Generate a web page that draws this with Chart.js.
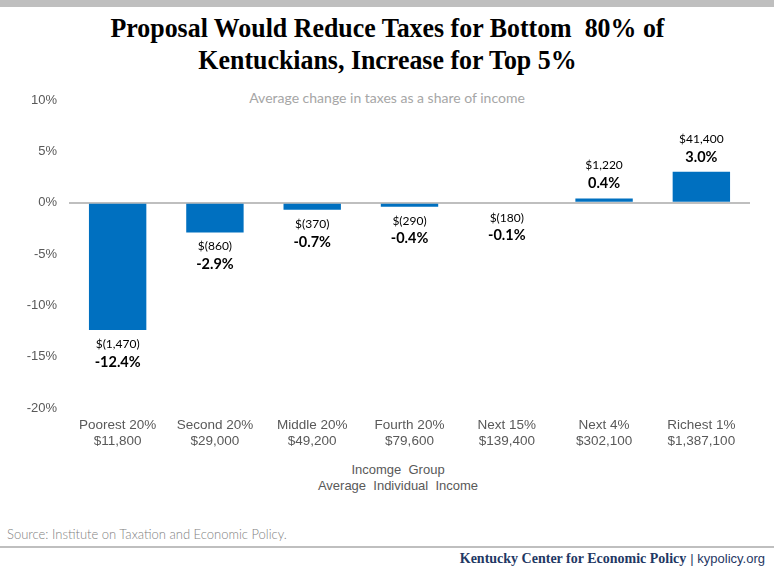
<!DOCTYPE html>
<html><head><meta charset="utf-8">
<script src="https://cdn.jsdelivr.net/npm/chart.js@4"></script>
<style>
html,body{margin:0;padding:0;background:#fff;}
#wrap{position:relative;width:774px;height:588px;overflow:hidden;background:#fff;}
#topbar{position:absolute;left:0;top:0;width:774px;height:7px;background:#bfbfbf;}
.title{position:absolute;left:0;width:774px;text-align:center;font-family:"Liberation Serif",serif;font-weight:bold;font-size:28px;line-height:32px;color:#000;white-space:nowrap;}
.title span{display:inline-block;transform:scaleX(0.925);}
#sub{position:absolute;left:187px;width:400px;top:89px;text-align:center;font-family:Lato,sans-serif;font-weight:400;font-size:14px;color:#a6a6a6;}
#xtitle{position:absolute;left:248px;width:300px;top:462px;text-align:center;font-family:"Liberation Sans",sans-serif;font-size:13px;line-height:16px;color:#595959;}
#source{position:absolute;left:7px;top:526px;font-family:Lato,sans-serif;font-weight:300;font-size:13px;color:#7f7f7f;}
#rule{position:absolute;left:0;top:546px;width:774px;height:2px;background:#bfbfbf;}
#foot{position:absolute;right:9px;top:549px;color:#1f3864;white-space:nowrap;}
#foot b{font-family:"Liberation Serif",serif;font-weight:bold;font-size:14px;}
#foot span{font-family:"Liberation Sans",sans-serif;font-size:13px;}
canvas{position:absolute;left:0;top:0;}
</style></head><body>
<div id="wrap">
<div id="topbar"></div>
<div class="title" style="top:12px"><span>Proposal Would Reduce Taxes for Bottom&nbsp; 80% of</span></div>
<div class="title" style="top:44px"><span>Kentuckians, Increase for Top 5%</span></div>
<div id="sub">Average change in taxes as a share of income</div>
<div id="xtitle">Incomge&nbsp; Group<br>Average&nbsp; Individual&nbsp; Income</div>
<div id="source">Source: Institute on Taxation and Economic Policy.</div>
<div id="rule"></div>
<div id="foot"><b>Kentucky Center for Economic Policy</b> <span>| kypolicy.org</span></div>
<canvas id="c" width="774" height="588"></canvas>
</div>
<script>
const groups = ["Poorest 20%", "Second 20%", "Middle 20%", "Fourth 20%", "Next 15%", "Next 4%", "Richest 1%"];
const incomes = ["$11,800", "$29,000", "$49,200", "$79,600", "$139,400", "$302,100", "$1,387,100"];
const pctChange = [-12.4, -2.9, -0.7, -0.4, -0.1, 0.4, 3.0];
const dollarChange = ["$(1,470)", "$(860)", "$(370)", "$(290)", "$(180)", "$1,220", "$41,400"];
const yTicks = [10, 5, 0, -5, -10, -15, -20];

const labels = groups.map((g, i) => [g, incomes[i]]);

const labelPlugin = {
  id: 'barLabels',
  afterDatasetsDraw(chart) {
    const ctx = chart.ctx;
    const meta = chart.getDatasetMeta(0);
    const ys = chart.scales.y;
    ctx.save();
    ctx.textAlign = 'center';
    ctx.textBaseline = 'middle';
    ctx.fillStyle = '#000';
    meta.data.forEach((bar, i) => {
      const v = pctChange[i];
      const yEnd = ys.getPixelForValue(v);
      const pct = v.toFixed(1) + '%';
      let yD, yP;
      if (v < 0) { yD = yEnd + 14; yP = yEnd + 32; }
      else { yP = yEnd - 15; yD = yEnd - 33; }
      ctx.font = '12px Lato, sans-serif';
      ctx.fillText(dollarChange[i], bar.x, yD);
      ctx.font = 'bold 14.5px Lato, sans-serif';
      ctx.fillText(pct, bar.x, yP);
    });
    ctx.restore();
  }
};

new Chart(document.getElementById('c'), {
  type: 'bar',
  data: {
    labels: labels,
    datasets: [{
      data: pctChange,
      backgroundColor: '#0070c0',
      borderWidth: 0,
      barPercentage: 0.59,
      categoryPercentage: 1.0
    }]
  },
  options: {
    responsive: false,
    animation: false,
    devicePixelRatio: 1,
    layout: { padding: { top: 100, right: 24, bottom: 0, left: 0 } },
    plugins: { legend: { display: false }, tooltip: { enabled: false }, title: { display: false } },
    scales: {
      x: {
        afterFit(s) { s.height = 180; },
        border: { display: false },
        grid: { display: false, drawTicks: false },
        ticks: {
          color: '#595959',
          padding: 9,
          maxRotation: 0,
          autoSkip: false,
          font: { family: '"Liberation Sans", sans-serif', size: 13.5, lineHeight: 16/13.5 }
        }
      },
      y: {
        min: Math.min(...yTicks),
        max: Math.max(...yTicks),
        afterFit(s) { s.width = 69; },
        afterBuildTicks(s) { s.ticks = yTicks.map(v => ({ value: v })); },
        border: { display: false },
        grid: {
          drawTicks: false,
          color: (c) => c.tick && c.tick.value === 0 ? '#bfbfbf' : 'rgba(0,0,0,0)',
          lineWidth: (c) => c.tick && c.tick.value === 0 ? 2 : 0
        },
        ticks: {
          color: '#595959',
          padding: 12,
          font: { family: '"Liberation Sans", sans-serif', size: 13 },
          callback: (v) => v + '%'
        }
      }
    }
  },
  plugins: [labelPlugin]
});
</script>
</body></html>
